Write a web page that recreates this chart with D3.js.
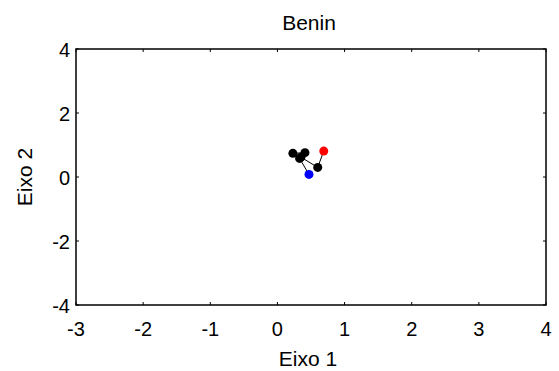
<!DOCTYPE html>
<html><head><meta charset="utf-8">
<script src="https://cdn.jsdelivr.net/npm/d3@7"></script>
<style>body{margin:0;background:#fff}svg{display:block}text{font-family:"Liberation Sans",Arial,sans-serif}</style>
</head><body><svg id="c" width="559" height="371"></svg>
<script>
const title = "Benin";
const xLabel = "Eixo 1";
const yLabel = "Eixo 2";
const xTicks = [-3,-2,-1,0,1,2,3,4];
const yTicks = [-4,-2,0,2,4];
const xs = [0.47,0.33,0.23,0.41,0.35,0.60,0.69];
const ys = [0.08,0.58,0.74,0.76,0.62,0.30,0.81];
const colors = ["#0000ff","#000","#000","#000","#000","#000","#ff0000"];

const svg = d3.select("#c");
const W=559,H=371, m={l:76,r:13,t:49,b:66};
const x = d3.scaleLinear().domain([-3,4]).range([m.l, W-m.r]);
const y = d3.scaleLinear().domain([-4,4]).range([H-m.b, m.t]);
const fs = 20, fl = 21;

// ticks inside
const tl=3;
const g = svg.append("g");
xTicks.forEach(t=>{
  g.append("line").attr("x1",x(t)).attr("x2",x(t)).attr("y1",y(-4)).attr("y2",y(-4)-tl).attr("stroke","#000");
  g.append("line").attr("x1",x(t)).attr("x2",x(t)).attr("y1",y(4)).attr("y2",y(4)+tl).attr("stroke","#000");
  g.append("text").attr("x",x(t)).attr("y",y(-4)+31).attr("text-anchor","middle").attr("font-size",fs).text(t);
});
yTicks.forEach(t=>{
  g.append("line").attr("x1",x(-3)).attr("x2",x(-3)+tl).attr("y1",y(t)).attr("y2",y(t)).attr("stroke","#000");
  g.append("line").attr("x1",x(4)).attr("x2",x(4)-tl).attr("y1",y(t)).attr("y2",y(t)).attr("stroke","#000");
  g.append("text").attr("x",x(-3)-6).attr("y",y(t)+8).attr("text-anchor","end").attr("font-size",fs).text(t);
});
svg.append("rect").attr("x",x(-3)).attr("y",y(4)).attr("width",x(4)-x(-3)).attr("height",y(-4)-y(4))
  .attr("fill","none").attr("stroke","#000").attr("stroke-width",1.5);

const pts = xs.map((v,i)=>[v,ys[i]]);
svg.append("path").attr("d",d3.line().x(d=>x(d[0])).y(d=>y(d[1]))(pts)).attr("fill","none").attr("stroke","#000").attr("stroke-width",1);
svg.selectAll("circle.p").data(pts).join("circle").attr("cx",d=>x(d[0])).attr("cy",d=>y(d[1])).attr("r",4.5)
  .attr("fill",(d,i)=>colors[i]);

svg.append("text").attr("x",309).attr("y",30).attr("text-anchor","middle").attr("font-size",fl).text(title);
svg.append("text").attr("x",308).attr("y",366).attr("text-anchor","middle").attr("font-size",fl).text(xLabel);
svg.append("text").attr("transform",`translate(32,${(y(-4)+y(4))/2}) rotate(-90)`).attr("text-anchor","middle").attr("font-size",fl).text(yLabel);
</script></body></html>
